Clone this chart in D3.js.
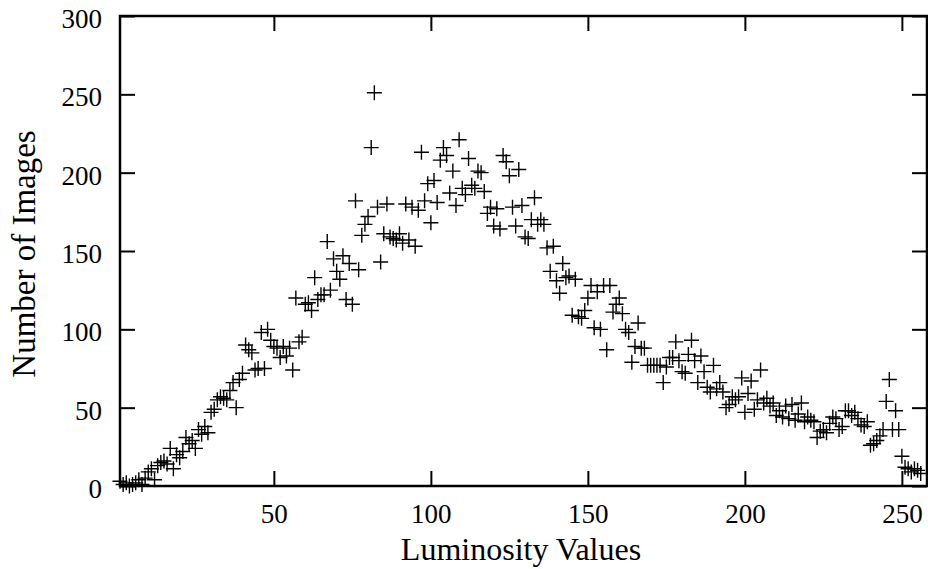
<!DOCTYPE html>
<html>
<head>
<meta charset="utf-8">
<script src="https://cdn.jsdelivr.net/npm/d3@7"></script>
<style>
  body { margin: 0; background: #fff; }
</style>
</head>
<body>
<svg id="chart" width="928" height="569"></svg>
<script>
// luminosity histogram, one count per value 1..256
let counts = [
    3, 1, 2, 0, 1, 2, 4, 1, 5, 9, 11, 4, 13, 15, 16, 14, 24, 11, 20, 18,
    22, 31, 27, 29, 24, 36, 33, 38, 34, 47, 49, 55, 57, 56, 55, 61, 66, 50, 68, 72,
    90, 87, 85, 74, 75, 98, 75, 100, 93, 89, 88, 82, 89, 83, 88, 74, 120, 92, 95, 116,
    117, 112, 133, 119, 122, 122, 156, 125, 145, 137, 132, 147, 119, 142, 116, 182, 138, 160, 167, 172,
    216, 251, 178, 143, 161, 180, 159, 158, 157, 161, 155, 180, 157, 178, 153, 176, 213, 182, 193, 168,
    195, 181, 208, 216, 211, 187, 201, 179, 221, 190, 186, 209, 192, 190, 201, 200, 188, 174, 178, 166,
    177, 164, 211, 207, 198, 178, 166, 202, 179, 159, 158, 170, 184, 167, 170, 167, 152, 137, 153, 131,
    123, 142, 133, 134, 109, 132, 108, 107, 112, 120, 128, 101, 124, 100, 128, 87, 128, 111, 116, 120,
    110, 100, 98, 79, 89, 104, 88, 88, 77, 77, 77, 77, 77, 66, 76, 82, 82, 92, 80, 73,
    72, 84, 93, 80, 66, 83, 73, 63, 60, 77, 62, 66, 60, 50, 52, 57, 55, 57, 69, 47,
    59, 67, 49, 55, 74, 53, 56, 51, 53, 45, 48, 44, 51, 43, 52, 42, 46, 53, 41, 44,
    42, 41, 31, 35, 36, 34, 40, 44, 43, 36, 38, 48, 48, 45, 47, 43, 39, 38, 41, 26,
    27, 29, 32, 36, 54, 68, 36, 48, 36, 19, 12, 11, 9, 11, 10, 8
];
let xTicks = [50, 100, 150, 200, 250];
let yTicks = [0, 50, 100, 150, 200, 250, 300];

let data = counts.map((c, i) => ({ lum: i + 1, n: c }));

let svg = d3.select("#chart");
let pLeft = 120, pRight = 927, pTop = 16, pBottom = 486;
let serif = '"Liberation Serif", "DejaVu Serif", serif';

let x = d3.scaleLinear().domain([1, 258]).range([pLeft, pRight]);
let y = d3.scaleLinear().domain([0, 300]).range([pBottom, pTop]);

// axes, ticks pointing inward like gnuplot
let gx = svg.append("g")
    .attr("transform", `translate(0,${pBottom})`)
    .call(d3.axisBottom(x).tickValues(xTicks).tickSizeInner(-15).tickSizeOuter(0).tickPadding(18));
let gy = svg.append("g")
    .attr("transform", `translate(${pLeft},0)`)
    .call(d3.axisLeft(y).tickValues(yTicks).tickSizeInner(-15).tickSizeOuter(0).tickPadding(18));
let gt = svg.append("g")
    .attr("transform", `translate(0,${pTop})`)
    .call(d3.axisTop(x).tickValues(xTicks).tickSizeInner(-15).tickSizeOuter(0).tickFormat(""));
let gr = svg.append("g")
    .attr("transform", `translate(${pRight},0)`)
    .call(d3.axisRight(y).tickValues(yTicks).tickSizeInner(-15).tickSizeOuter(0).tickFormat(""));

[gx, gy, gt, gr].forEach(function(g) {
    g.attr("font-family", serif).attr("font-size", 27);
    g.select(".domain").remove();
    g.selectAll(".tick line").attr("stroke", "#000").attr("stroke-width", 2);
    g.selectAll(".tick text").attr("fill", "#000").style("font-family", serif);
});
gy.selectAll(".tick text").attr("dy", "0.42em");

// frame
svg.append("rect")
    .attr("x", pLeft)
    .attr("y", pTop)
    .attr("width", pRight - pLeft)
    .attr("height", pBottom - pTop)
    .attr("fill", "none")
    .attr("stroke", "#000")
    .attr("stroke-width", 2.5);

// + markers
svg.append("g")
    .selectAll("path")
    .data(data)
    .enter()
    .append("path")
    .attr("transform", d => `translate(${x(d.lum)},${y(d.n)})`)
    .attr("d", "M-7.5,0H7.5M0,-7.5V7.5")
    .attr("stroke", "#000")
    .attr("stroke-width", 1.4)
    .attr("fill", "none");

svg.append("text")
    .attr("x", 521)
    .attr("y", 560)
    .attr("text-anchor", "middle")
    .style("font-family", serif)
    .style("font-size", "32px")
    .text("Luminosity Values");

svg.append("text")
    .attr("transform", `translate(35,254) rotate(-90)`)
    .attr("text-anchor", "middle")
    .style("font-family", serif)
    .style("font-size", "33px")
    .text("Number of Images");
</script>
</body>
</html>
